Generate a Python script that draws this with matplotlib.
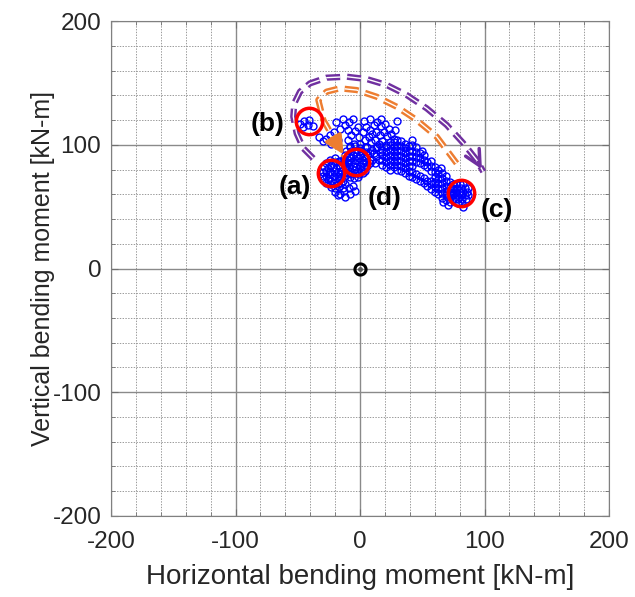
import matplotlib.pyplot as plt
import numpy as np

########
# data #
########

# measured bending moments [kN-m], (horizontal, vertical)
pts_b = [(-48, 117), (-45, 119), (-41, 120), (-38, 115), (-46, 114), (-42, 116)]

pts_trail = [(-33, 106), (-30, 103), (-27, 105), (-24, 108), (-19, 118), (-14, 121),
             (-16, 113), (-12, 116), (-21, 110), (-18, 104), (-23, 101), (-9, 118),
             (-6, 121), (-10, 112)]

pts_a = [(-24, 88), (-20, 89), (-17, 87), (-14, 88),
         (-27, 85), (-23, 84), (-20, 86), (-17, 84), (-13, 85),
         (-29, 82), (-26, 81), (-22, 82), (-19, 81), (-16, 82), (-12, 82),
         (-30, 78), (-27, 79), (-24, 78), (-21, 79), (-18, 78), (-15, 79), (-12, 78),
         (-30, 75), (-27, 75), (-24, 76), (-21, 75), (-18, 75), (-15, 76), (-12, 75),
         (-29, 72), (-26, 72), (-23, 71), (-20, 72), (-17, 72), (-14, 71),
         (-27, 69), (-24, 68), (-21, 69), (-18, 68), (-15, 69), (-12, 68),
         (-23, 66), (-20, 65), (-17, 66), (-14, 65),
         (-20, 62), (-16, 60), (-12, 58), (-8, 60), (-4, 63), (-13, 63),
         (-9, 65), (-6, 67), (-18, 59)]

pts_d = [(-8, 98), (-4, 99), (0, 97), (4, 98),
         (-11, 95), (-7, 95), (-3, 94), (1, 95), (5, 94),
         (-12, 92), (-9, 91), (-6, 92), (-3, 91), (0, 92), (3, 91), (6, 92),
         (-13, 89), (-10, 88), (-7, 89), (-4, 88), (-1, 89), (2, 88), (5, 89), (8, 88),
         (-13, 86), (-10, 85), (-7, 86), (-4, 85), (-1, 86), (2, 85), (5, 86), (8, 85),
         (-12, 83), (-9, 82), (-6, 83), (-3, 82), (0, 83), (3, 82), (6, 83),
         (-11, 80), (-8, 79), (-5, 80), (-2, 79), (1, 80), (4, 79),
         (-10, 77), (-7, 76), (-4, 77), (-1, 76), (2, 77),
         (-8, 74), (-5, 73), (-2, 74)]

pts_top = [(-10, 104), (-7, 108), (-4, 111), (-1, 106), (2, 110), (5, 114), (8, 112),
           (11, 116), (14, 118), (17, 115), (20, 117), (23, 113), (-5, 101), (0, 101),
           (4, 104), (7, 106), (10, 109), (13, 110), (16, 108), (19, 110), (22, 107),
           (25, 109), (9, 102), (12, 104), (15, 101), (18, 103), (21, 100), (24, 102),
           (6, 98), (10, 96), (13, 97), (-8, 99), (-2, 114), (3, 119), (8, 121),
           (17, 121), (28, 112), (27, 105), (10, 88), (13, 91), (16, 94), (11, 93),
           (14, 98), (8, 93), (12, 85), (15, 88), (17, 99), (30, 119)]

pts_band = [(18, 84), (18, 88), (18, 92), (18, 96),
            (21, 82), (21, 86), (21, 90), (21, 94), (21, 98),
            (24, 80), (24, 84), (24, 88), (24, 92), (24, 96), (24, 100),
            (27, 82), (27, 86), (27, 90), (27, 94), (27, 98), (27, 102),
            (30, 80), (30, 84), (30, 88), (30, 92), (30, 96), (30, 100), (30, 104),
            (33, 79), (33, 83), (33, 87), (33, 91), (33, 95), (33, 99), (33, 103),
            (36, 77), (36, 81), (36, 85), (36, 89), (36, 93), (36, 97), (36, 101),
            (39, 75), (39, 79), (39, 83), (39, 87), (39, 91), (39, 95), (39, 99),
            (42, 74), (42, 78), (42, 83), (42, 87), (42, 91), (42, 95), (42, 100), (42, 104),
            (45, 72), (45, 76), (45, 86), (45, 90), (45, 94), (45, 98),
            (48, 71), (48, 75), (48, 85), (48, 89), (48, 93),
            (51, 69), (51, 73), (51, 84), (51, 88), (51, 92),
            (54, 67), (54, 71), (54, 82), (54, 86),
            (57, 64), (57, 68), (57, 71), (57, 79), (57, 83), (57, 87),
            (60, 62), (60, 66), (60, 70), (60, 74), (60, 78), (60, 82),
            (63, 60), (63, 64), (63, 68), (63, 72), (63, 76), (63, 80),
            (66, 57), (66, 61), (66, 65), (66, 69), (66, 73), (66, 77),
            (69, 55), (69, 59), (69, 63), (69, 67), (69, 71), (69, 75),
            (72, 54), (72, 58), (72, 62), (72, 66), (72, 70),
            (75, 56), (75, 60), (75, 64), (75, 68),
            (50, 95), (65, 81), (71, 51), (67, 54), (83, 50)]

pts_c = [(77, 68), (80, 68), (83, 68),
         (75, 65), (78, 65), (81, 65), (84, 65), (87, 65),
         (74, 62), (77, 62), (80, 62), (83, 62), (86, 62),
         (75, 59), (78, 59), (81, 59), (84, 59), (87, 59),
         (76, 56), (79, 56), (82, 56), (85, 56),
         (79, 53), (82, 53)]

# highlighted states
state_labels = ['(a)', '(b)', '(c)', '(d)']
state_x = [-23, -41, 81, -3]
state_y = [77, 119, 61, 86]
label_x = [-52, -74, 110, 20]
label_y = [66, 117, 47, 57]

# transition paths
purple_x = [-37.5, -45.5, -50.9, -53.6, -52.8, -48.2, -40.2, -26.9, -10.7, 5.4,
            21.4, 37.5, 53.6, 69.6, 83.0, 93.7, 99.0]
purple_y = [89.0, 97.1, 109.2, 122.7, 133.5, 142.9, 149.6, 154.2, 155.0, 153.1,
            148.3, 140.2, 129.4, 116.0, 101.2, 87.7, 78.2]
orange_x = [77.6, 61.6, 45.5, 29.5, 13.4, -2.7, -16.1, -26.9, -33.5, -32.1,
            -29.5, -24.1, -18.7, -12.0]
orange_y = [85.0, 106.5, 120.0, 130.7, 138.8, 144.2, 145.6, 142.9, 136.2, 130.7,
            120.0, 110.6, 101.2, 90.3]

#################
# configuration #
#################

plt.rcParams['font.family'] = ['Liberation Sans', 'DejaVu Sans']
plt.rcParams['lines.scale_dashes'] = False
plt.rcParams['axes.unicode_minus'] = False

fig = plt.figure(figsize=(6.35, 5.97), dpi=100)
ax = fig.add_axes([0.1748, 0.1357, 0.7843, 0.8291])

ax.set_xlim(-200, 200)
ax.set_ylim(-200, 200)
ax.set_xticks(np.arange(-200, 201, 100))
ax.set_yticks(np.arange(-200, 201, 100))
ax.set_xticks(np.arange(-200, 201, 20), minor=True)
ax.set_yticks(np.arange(-200, 201, 20), minor=True)
ax.set_axisbelow(True)
ax.grid(which='major', color='#8a8a8a', lw=1.0, ls='-')
ax.grid(which='minor', color='#9a9a9a', lw=0.7, ls=(0, (1, 1)))
ax.tick_params(which='both', direction='in', top=True, right=True,
               colors='#707070', labelcolor='#262626', labelsize=17.5)
ax.tick_params(which='major', length=5)
ax.tick_params(which='minor', length=3)
ax.tick_params(axis='x', which='major', pad=11)
ax.tick_params(axis='y', which='major', pad=7)
for s in ax.spines.values():
    s.set_color('#808080')

########
# plot #
########

pts = np.array(pts_b + pts_trail + pts_a + pts_d + pts_top + pts_band + pts_c)
ax.plot(pts[:, 0], pts[:, 1], 'o', mfc='none', mec='#0000ff', ms=5, mew=1, zorder=3)

# origin
ax.plot(0, 0, 'o', mfc='none', mec='black', ms=8, mew=2.2, zorder=4)
ax.plot(0, 0, 'o', color='#555555', ms=2.5, zorder=4)

# paths (double dashed look)
for px, py, c, style in [(purple_x, purple_y, '#7030a0', '->'),
                         (orange_x, orange_y, '#ed7d31', '-|>')]:
    ax.plot(px, py, color=c, lw=4.5, ls=(0, (10, 5)), zorder=5,
            dash_capstyle='butt')
    ax.plot(px, py, color='white', lw=1.0, ls=(0, (10, 5)), zorder=6,
            dash_capstyle='butt')
    ax.annotate('', xy=(px[-1], py[-1]), xytext=(px[-2], py[-2]),
                arrowprops=dict(arrowstyle=style, color=c, lw=2.5,
                                mutation_scale=28), zorder=7)

ax.plot(state_x, state_y, 'o', mfc='none', mec='red', ms=19, mew=2.5, zorder=8)
for t, lx, ly in zip(state_labels, label_x, label_y):
    ax.text(lx, ly, t, fontsize=19, fontweight='bold', ha='center', va='center')

ax.set_xlabel('Horizontal bending moment [kN-m]', fontsize=20, color='#262626', labelpad=8)
ax.set_ylabel('Vertical bending moment [kN-m]', fontsize=18, color='#262626', labelpad=-2)

plt.savefig('out.png', dpi=100)
plt.close()
